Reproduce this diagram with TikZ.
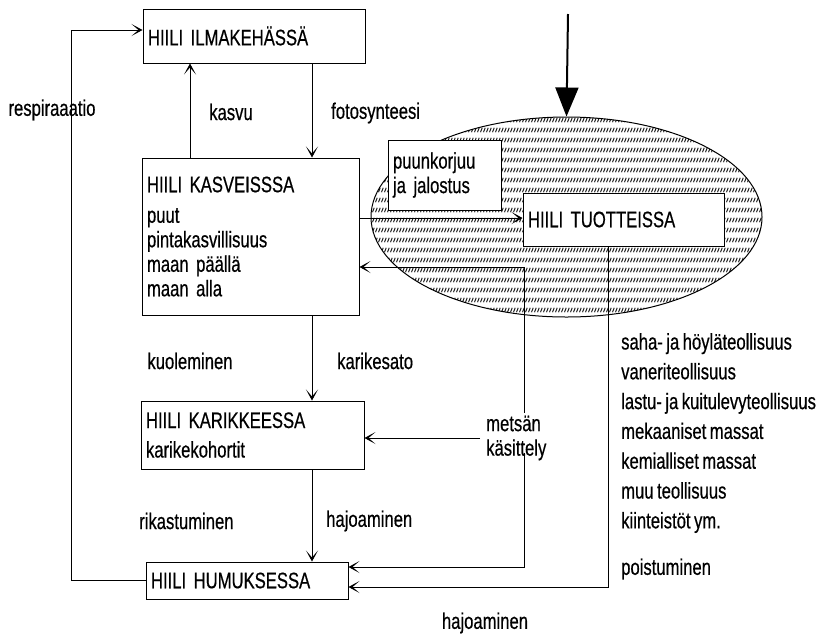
\documentclass[tikz,border=0pt]{standalone}
\usepackage{fontspec}
\setmainfont{Liberation Sans}[FakeStretch=0.74, FakeBold=0.5, WordSpace=0.75]
\usetikzlibrary{arrows.meta,shapes.geometric,patterns}

% rows of short slashes used to hatch the product pool
\pgfdeclarepatternformonly{rowslash}{\pgfpointorigin}{\pgfqpoint{3.3pt}{9.7pt}}{\pgfqpoint{3.3pt}{9.7pt}}{%
  \pgfsetlinewidth{1.15pt}%
  \pgfpathmoveto{\pgfqpoint{0.6pt}{0.8pt}}%
  \pgfpathlineto{\pgfqpoint{2.7pt}{5.4pt}}%
  \pgfusepath{stroke}}

\begin{document}
\begin{tikzpicture}[x=1pt,y=-1pt,
  font=\fontsize{22.5}{24.5}\selectfont,
  box/.style={draw, line width=1pt, inner xsep=5pt, inner ysep=0pt, align=left, fill=white},
  flow/.style={line width=0.9pt, -{Stealth[length=11pt,width=12pt,inset=7pt]}},
  lbl/.style={inner sep=0pt, align=left}]
\useasboundingbox (0,0) rectangle (826,633);

% product pool
\node[ellipse, draw, line width=1pt, minimum width=391, minimum height=200,
      pattern=rowslash, pattern color=black!90] (ell) at (566.5,217) {};

% carbon stocks
\node[box, text width=212, minimum height=54] (ilma) at (254,36) {HIILI ILMAKEHÄSSÄ};
\node[box, text width=207, minimum height=157] (kasv) at (250.5,236.5)
  {HIILI KASVEISSSA\\[6pt]puut\\pintakasvillisuus\\maan päällä\\maan alla};
\node[box, text width=213, minimum height=68] (karik) at (252.5,435)
  {HIILI KARIKKEESSA\\[5pt]karikekohortit};
\node[box, text width=192, minimum height=37] (humus) at (247,580.5) {HIILI HUMUKSESSA};
\node[box, text width=191, minimum height=53] (tuot) at (623.5,219.5) {HIILI TUOTTEISSA};
\node[box, text width=103, minimum height=70] (puun) at (444.5,175) {puunkorjuu\\ja jalostus};

% input arrow into the product pool
\coordinate (topin) at (568,14);
\draw[line width=2pt, -{Triangle[length=29pt,width=23pt]}] (topin) -- (ell.north);

% helper columns and turning points
\coordinate (colA) at (190,0);
\coordinate (colB) at (312,0);
\coordinate (resp) at (71,30);
\coordinate (mk) at (524,267);
\coordinate (mkd) at (524,567);
\coordinate (pt) at (608,587);

% flows between stocks
\draw[flow] (humus.west) -| (resp) -- (resp -| ilma.west);
\draw[flow] (colA |- kasv.north) -- (colA |- ilma.south);
\draw[flow] (colB |- ilma.south) -- (colB |- kasv.north);
\draw[flow] (colB |- kasv.south) -- (colB |- karik.north);
\draw[flow] (colB |- karik.south) -- (colB |- humus.north);
\draw[flow] (kasv.east |- 0,218) -- (tuot.west |- 0,218);

% forest management
\node[lbl, anchor=west] (mets) at (486,438) {metsän\\käsittely};
\draw[flow] ([xshift=-6pt]mets.west) -- (karik.east |- mets.west);
\draw[flow] (mk |- mets.north) ++(0,-3) -- (mk) -- (kasv.east |- mk);
\draw[flow] (mk |- mets.south) ++(0,-8) -- (mkd) -- (humus.east |- mkd);

% removal of products
\draw[flow] (tuot.south -| pt) -- (pt) -- (humus.east |- pt);

% process labels
\node[lbl] (lresp) at (52,110) {respiraaatio};
\node[lbl] (lkasvu) at (231,112) {kasvu};
\node[lbl, anchor=west] (lfoto) at (331,113) {fotosynteesi};
\node[lbl] (lkuol) at (190,361) {kuoleminen};
\node[lbl, anchor=west] (lkari) at (337,361) {karikesato};
\node[lbl, anchor=west] (lrik) at (139,521) {rikastuminen};
\node[lbl, anchor=west] (lhajo) at (326,521) {hajoaminen};
\node[lbl] (lhajo2) at (485,623) {hajoaminen};

% product categories
\node[lbl, anchor=north west, font=\fontsize{22.5}{29.8}\selectfont] (list) at (621,333)
  {saha- ja höyläteollisuus\\vaneriteollisuus\\lastu- ja kuitulevyteollisuus\\mekaaniset massat\\kemialliset massat\\muu teollisuus\\kiinteistöt ym.};
\node[lbl, anchor=west] (lpois) at (621,569) {poistuminen};
\end{tikzpicture}
\end{document}
